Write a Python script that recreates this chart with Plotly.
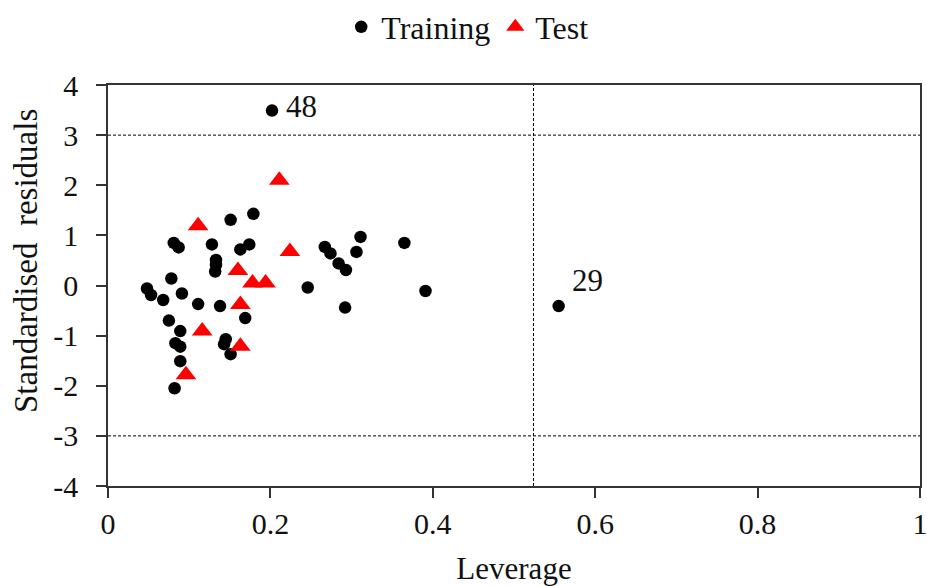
import plotly.graph_objects as go

FONT = "Liberation Serif"

# Training set (leverage, standardised residual)
train_leverage = [0.202, 0.151, 0.179, 0.081, 0.087, 0.128, 0.163, 0.174, 0.133, 0.133,
                  0.132, 0.078, 0.048, 0.053, 0.068, 0.091, 0.111, 0.138, 0.169, 0.075,
                  0.089, 0.083, 0.089, 0.145, 0.143, 0.151, 0.089, 0.082, 0.246, 0.292,
                  0.267, 0.274, 0.284, 0.293, 0.306, 0.311, 0.365, 0.391, 0.555]
train_residual = [3.49, 1.31, 1.43, 0.85, 0.76, 0.82, 0.72, 0.82, 0.51, 0.41,
                  0.28, 0.14, -0.06, -0.19, -0.29, -0.16, -0.37, -0.41, -0.65, -0.70,
                  -0.91, -1.15, -1.22, -1.07, -1.17, -1.37, -1.51, -2.05, -0.04, -0.44,
                  0.77, 0.64, 0.44, 0.31, 0.67, 0.97, 0.85, -0.11, -0.41]

# Test set
test_leverage = [0.211, 0.111, 0.224, 0.160, 0.178, 0.194, 0.163, 0.116, 0.163, 0.096]
test_residual = [2.10, 1.19, 0.68, 0.30, 0.05, 0.05, -0.38, -0.91, -1.21, -1.78]

# Labelled outliers
outlier_labels = ["48", "29"]
outlier_leverage = [0.202, 0.555]
outlier_residual = [3.49, -0.41]

# Limits
warning_leverage = 0.524
residual_limits = [3, -3]

x_ticks = [0, 0.2, 0.4, 0.6, 0.8, 1]
x_ticktext = ["0", "0.2", "0.4", "0.6", "0.8", "1"]
y_ticks = [4, 3, 2, 1, 0, -1, -2, -3, -4]
y_ticktext = ["4", "3", "2", "1", "0", "-1", "-2", "-3", "-4"]

fig = go.Figure()
fig.add_trace(go.Scatter(
    x=train_leverage, y=train_residual, mode="markers", name="Training",
    marker=dict(symbol="circle", size=12.5, color="black"),
))
fig.add_trace(go.Scatter(
    x=test_leverage, y=test_residual, mode="markers", name="Test",
    marker=dict(symbol="triangle-up", size=18, color="#ff0000"),
))

for yv in residual_limits:
    fig.add_shape(type="line", xref="x", yref="y", x0=0, x1=1, y0=yv, y1=yv,
                  line=dict(color="black", width=1, dash="3px,2px"))
fig.add_shape(type="line", xref="x", yref="y", x0=warning_leverage, x1=warning_leverage,
              y0=-4, y1=4, line=dict(color="black", width=1, dash="3px,2px"))

fig.add_annotation(x=outlier_leverage[0], y=outlier_residual[0], text=outlier_labels[0],
                   showarrow=False, xanchor="left", yanchor="middle", xshift=12, yshift=4,
                   font=dict(family=FONT, size=31, color="#111"))
fig.add_annotation(x=outlier_leverage[1], y=outlier_residual[1], text=outlier_labels[1],
                   showarrow=False, xanchor="left", yanchor="bottom", xshift=11, yshift=6,
                   font=dict(family=FONT, size=31, color="#111"))

# y-axis title placed as rotated text
fig.add_annotation(xref="paper", yref="paper", x=-0.101, y=0.561, text="Standardised  residuals",
                   textangle=-90, showarrow=False, xanchor="center", yanchor="middle",
                   font=dict(family=FONT, size=33, color="#111"))

axis_common = dict(
    showgrid=False, zeroline=False, showline=True, linecolor="#333", linewidth=1.5,
    mirror=True, ticks="outside", ticklen=10, tickwidth=1.5, tickcolor="#333",
    tickfont=dict(family=FONT, size=30, color="#111"), automargin=False,
    ticklabeloverflow="allow",
)
fig.update_xaxes(range=[0, 1], tickvals=x_ticks, ticktext=x_ticktext,
                 title=dict(text="Leverage", font=dict(family=FONT, size=31, color="#111"), standoff=21),
                 **axis_common)
fig.update_yaxes(range=[-4, 4], tickvals=y_ticks, ticktext=y_ticktext, ticklabelstandoff=12,
                 **axis_common)

fig.update_layout(
    width=927, height=586,
    margin=dict(l=108, r=7, t=85, b=100, autoexpand=False),
    paper_bgcolor="white", plot_bgcolor="white",
    font=dict(family=FONT, color="#111"),
    legend=dict(orientation="h", x=0.443, xanchor="center", yref="paper", y=1.1446, yanchor="middle",
                font=dict(family=FONT, size=32, color="#111"), itemwidth=30),
    showlegend=True,
)

fig.write_html("out.html", config={"displayModeBar": False},
               post_script="document.body.style.margin='0';document.body.style.overflow='hidden';")
